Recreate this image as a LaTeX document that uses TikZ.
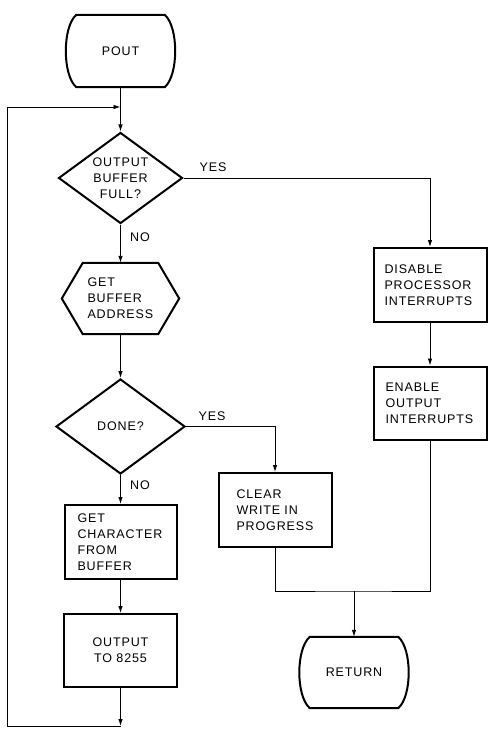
\documentclass[tikz,border=0pt]{standalone}
\usepackage{fontspec}
\newfontfamily\lblfont[LetterSpace=7]{Liberation Sans}
\usetikzlibrary{shapes.geometric,arrows.meta,calc}
\begin{document}
\begin{tikzpicture}[x=1pt,y=-1pt,
  every node/.style={font=\lblfont\fontsize{12.5}{16}\selectfont},
  box/.style={draw,line width=2pt,rectangle,inner sep=0pt,align=left},
  dec/.style={draw,line width=2pt,diamond,aspect=1.36,inner sep=0pt,align=center},
  blank/.style={rectangle,inner sep=0pt},
  conn/.style={line width=0.9pt},
  arr/.style={conn,-{Latex[length=7pt,width=4.5pt]}},
  lbl/.style={inner sep=0pt}
]
\fill[white] (0,0) rectangle (489,730);
\useasboundingbox (0,0) rectangle (489,730);

\node[blank,minimum width=110pt,minimum height=72pt] (pout) at (120.5,51) {POUT};
\node[dec,minimum width=124pt,minimum height=91pt] (d1) at (120.5,178) {OUTPUT\\BUFFER\\FULL?};
\node[blank,minimum width=117pt,minimum height=71pt,text width=66pt,align=left] (gba) at (120.5,298.5) {GET\\BUFFER\\ADDRESS};
\node[dec,minimum width=129pt,minimum height=95pt] (d2) at (120.5,426.5) {DONE?};
\node[box,minimum width=112pt,minimum height=74pt,text width=86pt] (gc) at (120.5,542) {GET\\CHARACTER\\FROM\\BUFFER};
\node[box,minimum width=113pt,minimum height=73pt,align=center] (out) at (120.5,650.5) {OUTPUT\\TO 8255};
\node[box,minimum width=113pt,minimum height=74pt,text width=91pt] (dis) at (430,285) {DISABLE\\PROCESSOR\\INTERRUPTS};
\node[box,minimum width=113pt,minimum height=73pt,text width=89pt] (ena) at (430,403) {ENABLE\\OUTPUT\\INTERRUPTS};
\node[box,minimum width=113pt,minimum height=74pt,text width=77pt] (clr) at (275,510) {CLEAR\\WRITE IN\\PROGRESS};
\node[blank,minimum width=110pt,minimum height=71pt] (ret) at (354,672.5) {RETURN};

\foreach \n in {pout,ret}
  \draw[line width=2pt] ($(\n.north west)+(11,0)$) -- ($(\n.north east)+(-11,0)$)
    .. controls ($(\n.north east)+(3,12)$) and ($(\n.south east)+(3,-12)$) .. ($(\n.south east)+(-11,0)$)
    -- ($(\n.south west)+(11,0)$)
    .. controls ($(\n.south west)+(-3,-12)$) and ($(\n.north west)+(-3,12)$) .. cycle;

\draw[line width=2pt] (gba.west) -- ($(gba.north west)+(21,0)$) -- ($(gba.north east)+(-21,0)$)
  -- (gba.east) -- ($(gba.south east)+(-21,0)$) -- ($(gba.south west)+(21,0)$) -- cycle;

\coordinate (j1) at (120.5,107);
\coordinate (b1) at (120.5,726);
\coordinate (b0) at (7,726);
\coordinate (t0) at (7,107);
\coordinate (j2) at (354,591);

\draw[arr] (pout.south) -- (d1.north);
\draw[arr] (d1.south) -- (gba.north);
\draw[arr] (gba.south) -- (d2.north);
\draw[arr] (d2.south) -- (gc.north);
\draw[arr] (gc.south) -- (out.north);
\draw[arr] (out.south) -- (b1);
\draw[conn] (b1) -- (b0) -- (t0);
\draw[arr] (t0) -- (j1);
\draw[arr] (d1.east) -| (dis.north);
\draw[arr] (dis.south) -- (ena.north);
\draw[arr] (d2.east) -| (clr.north);
\draw[conn] (clr.south) |- (j2) -| (ena.south);
\draw[arr] (j2) -- (ret.north);

\node[lbl] (y1) at (213,167) {YES};
\node[lbl] (n1) at (140,237) {NO};
\node[lbl] (y2) at (212,416) {YES};
\node[lbl] (n2) at (140,485) {NO};
\end{tikzpicture}
\end{document}
